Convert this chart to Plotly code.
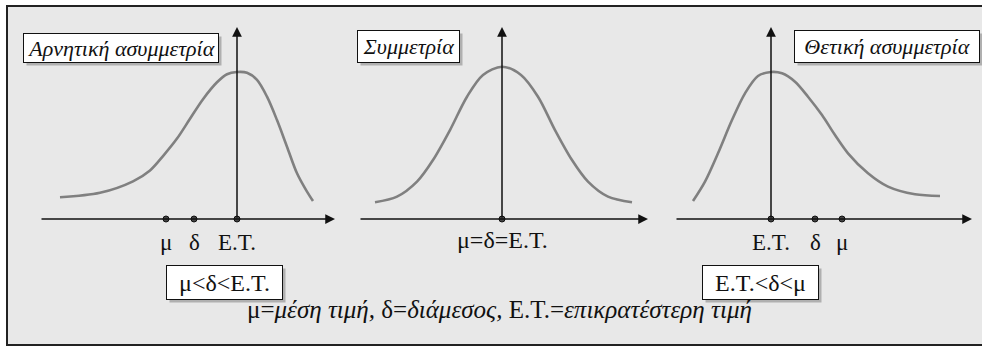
import plotly.graph_objects as go

# curve samples
# x: distance from the vertical axis (1 unit = 10 px), y: height relative to the peak
neg_x = [-17.7, -13.7, -10.4, -8.7, -7.4, -6.0, -4.7, -3.4, -2.0, -1.0, 0, 1.0, 2.0, 3.0, 4.0, 5.0, 6.0, 7.0, 7.6]
neg_y = [0.148, 0.178, 0.256, 0.330, 0.428, 0.547, 0.682, 0.815, 0.930, 0.985, 1.0, 0.995, 0.946, 0.832, 0.673, 0.492, 0.311, 0.186, 0.122]
sym_x = [-12.7, -10.5, -8.5, -6.9, -5.2, -3.5, -1.9, 0, 1.9, 3.6, 5.3, 7.0, 8.6, 10.6, 13.0]
sym_y = [0.114, 0.152, 0.254, 0.401, 0.605, 0.832, 0.980, 1.036, 0.980, 0.832, 0.605, 0.401, 0.254, 0.152, 0.114]
pos_x = [-7.8, -6.6, -5.3, -3.9, -2.6, -1.3, 0, 1.1, 2.4, 3.7, 5.1, 6.4, 7.7, 9.7, 11.7, 14.4, 16.9]
pos_y = [0.122, 0.254, 0.447, 0.673, 0.855, 0.973, 1.0, 0.991, 0.934, 0.832, 0.707, 0.571, 0.447, 0.311, 0.220, 0.168, 0.156]

# marked points on the horizontal axis
neg_marks = [-7.1, -4.3, 0]
neg_labels = ['μ', 'δ', 'Ε.Τ.']
sym_marks = [0]
sym_labels = ['μ=δ=Ε.Τ.']
pos_marks = [0, 4.4, 7.1]
pos_labels = ['Ε.Τ.', 'δ', 'μ']

# axes extents
axis_start = [-19.7, -14.3, -9.6]
axis_end = [9.8, 14.6, 20.1]
axis_top = 1.306

titles = ['Αρνητική ασυμμετρία', 'Συμμετρία', 'Θετική ασυμμετρία']
relations = ['μ<δ<Ε.Τ.', None, 'Ε.Τ.<δ<μ']
note = 'μ=<i>μέση τιμή,</i> δ=<i>διάμεσος,</i> Ε.Τ.=<i>επικρατέστερη τιμή</i>'

# page layout (pixels)
W, H = 982, 347
BASE = 219
UNIT_X, UNIT_Y = 10, 147
axis_px = [237, 502, 771]
col_px = [(0, 345), (345, 660), (660, 982)]

FONT = 'Liberation Serif, Times New Roman, serif'
CURVE = '#808080'
BG = '#e8e8e8'

curves = [(neg_x, neg_y), (sym_x, sym_y), (pos_x, pos_y)]
marks = [(neg_marks, neg_labels), (sym_marks, sym_labels), (pos_marks, pos_labels)]
title_pos = [(-11.6, 1.163, 196, 30), (-9.35, 1.173, 103, 33), (11.6, 1.173, 186, 33)]
rel_pos = [(-1.3, -0.43), None, (-1.1, -0.43)]


def boxed(x, y, xa, ya, text, size, w, h):
    '''Boxed label with a grey drop shadow, as two annotations'''
    shadow = dict(
        x=x, y=y, xref=xa, yref=ya, text=' ', showarrow=False,
        font=dict(family=FONT, size=size), width=w - 2, height=h - 2, borderpad=0,
        bgcolor='#b0b0b0', borderwidth=1, bordercolor='rgba(0,0,0,0)', xshift=3, yshift=-3,
    )
    front = dict(
        x=x, y=y, xref=xa, yref=ya, text=text, showarrow=False,
        font=dict(family=FONT, size=size, color='#111'), width=w - 2, height=h - 2, borderpad=0,
        bgcolor='white', borderwidth=1, bordercolor='#111',
    )
    return [shadow, front]


fig = go.Figure()
annotations = []
layout_axes = {}

for i in range(3):
    sfx = '' if i == 0 else str(i + 1)
    xa, ya = 'x' + sfx, 'y' + sfx
    l, r = col_px[i]
    layout_axes['xaxis' + sfx] = dict(
        domain=[l / W, r / W],
        range=[(l - axis_px[i]) / UNIT_X, (r - axis_px[i]) / UNIT_X],
        visible=False, anchor=ya, fixedrange=True,
    )
    layout_axes['yaxis' + sfx] = dict(
        domain=[0, 1],
        range=[(BASE - H) / UNIT_Y, BASE / UNIT_Y],
        visible=False, anchor=xa, fixedrange=True,
    )

    cx, cy = curves[i]
    fig.add_trace(go.Scatter(
        x=cx, y=cy, mode='lines', line=dict(color=CURVE, width=2.6, shape='spline', smoothing=0.9),
        xaxis=xa, yaxis=ya, hoverinfo='skip', showlegend=False,
    ))

    # horizontal axis with arrow
    annotations.append(dict(
        x=axis_end[i], y=0, ax=axis_start[i], ay=0, xref=xa, yref=ya, axref=xa, ayref=ya,
        text='', showarrow=True, arrowhead=2, arrowsize=1.3, arrowwidth=1.5, arrowcolor='#111',
    ))
    # vertical axis with arrow
    annotations.append(dict(
        x=0, y=axis_top, ax=0, ay=0, xref=xa, yref=ya, axref=xa, ayref=ya,
        text='', showarrow=True, arrowhead=2, arrowsize=1.3, arrowwidth=1.5, arrowcolor='#111',
    ))

    mx, ml = marks[i]
    fig.add_trace(go.Scatter(
        x=mx, y=[0] * len(mx), mode='markers',
        marker=dict(size=6, color='#444', line=dict(color='#111', width=1)),
        xaxis=xa, yaxis=ya, hoverinfo='skip', showlegend=False,
    ))
    label_y = -0.143 if i == 1 else -0.163
    for x, t in zip(mx, ml):
        annotations.append(dict(
            x=x, y=label_y, xref=xa, yref=ya, text=t, showarrow=False,
            font=dict(family=FONT, size=24 if i == 1 else 23, color='#111'),
        ))

    tx, ty, tw, th = title_pos[i]
    annotations += boxed(tx, ty, xa, ya, '<i>' + titles[i] + '</i>', 22, tw, th)

    if relations[i]:
        rx, ry = rel_pos[i]
        annotations += boxed(rx, ry, xa, ya, relations[i], 24, 117, 35)

annotations.append(dict(
    x=499 / W, y=(H - 325) / H, xref='paper', yref='paper', text=note, showarrow=False,
    font=dict(family=FONT, size=25, color='#111'),
))

# background panel and its frame (open on the right, as in the scan)
x0, y0, y1 = 7 / W, (H - 345) / H, (H - 6) / H
shapes = [
    dict(type='rect', xref='paper', yref='paper', x0=x0, x1=1, y0=y0, y1=y1,
         fillcolor=BG, line=dict(width=0), layer='below'),
    dict(type='path', xref='paper', yref='paper',
         path=f'M 1,{y1} L {x0},{y1} L {x0},{y0} L 1,{y0}',
         line=dict(color='#222', width=2), layer='below'),
]

fig.update_layout(
    width=W, height=H, margin=dict(l=0, r=0, t=0, b=0),
    paper_bgcolor='white', plot_bgcolor='rgba(0,0,0,0)',
    annotations=annotations, shapes=shapes, showlegend=False,
    **layout_axes,
)

fig.write_html(
    'out.html',
    config={'displayModeBar': False},
    post_script="document.body.style.margin='0';document.body.style.overflow='hidden';",
)
